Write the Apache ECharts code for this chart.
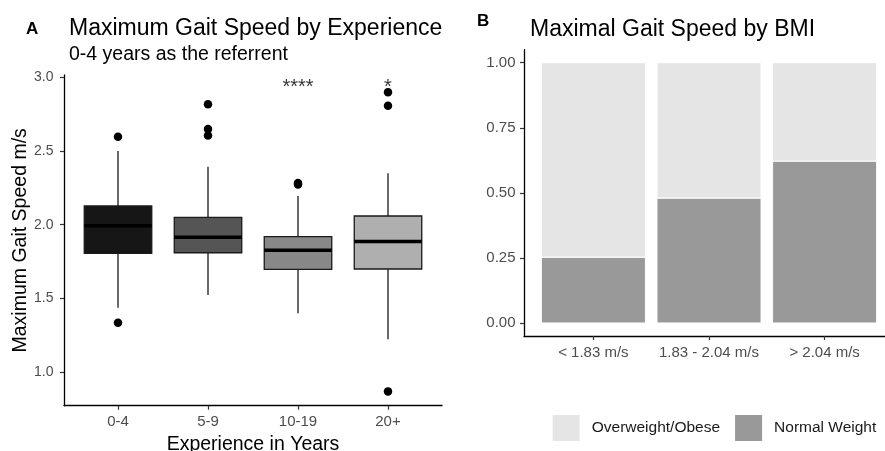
<!DOCTYPE html>
<html>
<head>
<meta charset="utf-8">
<script src="https://cdn.jsdelivr.net/npm/echarts@6/dist/echarts.min.js"></script>
<style>
html,body{margin:0;padding:0;background:#fff;}
#chart{width:885px;height:451px;}
</style>
</head>
<body>
<div id="chart"></div>
<script>
// ---- Panel A data: Maximum gait speed by experience (box plot) ----
const categories = ['0-4', '5-9', '10-19', '20+'];
const boxMin    = [1.438, 1.524, 1.400, 1.224];
const boxQ1     = [1.806, 1.810, 1.698, 1.700];
const boxMedian = [1.993, 1.915, 1.827, 1.887];
const boxQ3     = [2.127, 2.050, 1.919, 2.059];
const boxMax    = [2.500, 2.393, 2.194, 2.348];
const outlierCategory = ['0-4', '0-4', '5-9', '5-9', '5-9', '10-19', '10-19', '20+', '20+', '20+'];
const outlierValue    = [2.596, 1.336, 2.816, 2.648, 2.605, 2.272, 2.282, 2.898, 2.805, 0.871];
const sigCategory = ['10-19', '20+'];
const sigLabel    = ['****', '*'];
const sigValue    = [2.93, 2.93];
const yTicksA = [1.0, 1.5, 2.0, 2.5, 3.0];

// ---- Panel B data: Maximal gait speed by BMI (proportions) ----
const bmiCategories = ['< 1.83 m/s', '1.83 - 2.04 m/s', '> 2.04 m/s'];
const normalWeight = [0.253, 0.480, 0.622];
const overweightObese = [0.747, 0.520, 0.378];
const yTicksB = [0, 0.25, 0.5, 0.75, 1.0];

// ---- styles ----
const boxFills = ['#161616', '#555555', '#888888', '#afafaf'];
const FONT = '"Liberation Sans", Arial, sans-serif';
const tickGrey = '#4d4d4d';

const chart = echarts.init(document.getElementById('chart'), null, {renderer: 'canvas'});

const boxData = categories.map((c, i) => [i + 1, boxMin[i], boxQ1[i], boxMedian[i], boxQ3[i], boxMax[i]]);
const outlierData = outlierCategory.map((c, i) => [categories.indexOf(c) + 1, outlierValue[i]]);
const sigData = sigCategory.map((c, i) => ({value: [categories.indexOf(c) + 1, sigValue[i]], label: sigLabel[i]}));

// stacked segments: [x, bottom, top]
const normalSeg = normalWeight.map((v, i) => [i + 1, 0, v]);
const overSeg = overweightObese.map((v, i) => [i + 1, normalWeight[i], normalWeight[i] + v]);

function renderSegment(params, api) {
  const x = api.value(0);
  const pBot = api.coord([x, api.value(1)]);
  const pTop = api.coord([x, api.value(2)]);
  const w = api.size([0.9, 0])[0];
  return {
    type: 'rect',
    shape: {x: pBot[0] - w / 2, y: pTop[1], width: w, height: pBot[1] - pTop[1]},
    style: {fill: api.visual('color'), stroke: '#ffffff', lineWidth: 1}
  };
}

const option = {
  animation: false,
  backgroundColor: '#ffffff',
  textStyle: {fontFamily: FONT},
  title: [
    {text: 'A', left: 21, top: 15.5, textStyle: {fontFamily: FONT, fontSize: 17, fontWeight: 'bold', color: '#000'}},
    {text: 'Maximum Gait Speed by Experience', left: 64, top: 12.5, textStyle: {fontFamily: FONT, fontSize: 23, fontWeight: 'normal', color: '#000'}},
    {text: '0-4 years as the referrent', left: 64, top: 39.5, textStyle: {fontFamily: FONT, fontSize: 19.5, fontWeight: 'normal', color: '#000'}},
    {text: 'B', left: 472, top: 8, textStyle: {fontFamily: FONT, fontSize: 17, fontWeight: 'bold', color: '#000'}},
    {text: 'Maximal Gait Speed by BMI', left: 525, top: 13, textStyle: {fontFamily: FONT, fontSize: 23, fontWeight: 'normal', color: '#000'}}
  ],
  legend: {
    data: ['Overweight/Obese', 'Normal Weight'],
    left: 547.7, top: 410, width: 600,
    itemWidth: 27, itemHeight: 26, itemGap: 15,
    icon: 'rect',
    textStyle: {fontFamily: FONT, fontSize: 15.5, color: '#1a1a1a', padding: [0, 0, 0, 7]}
  },
  grid: [
    {left: 64, top: 75, width: 378, height: 330.7, containLabel: false, outerBoundsMode: 'none'},
    {left: 524, top: 49.7, width: 370, height: 286.3, containLabel: false, outerBoundsMode: 'none'}
  ],
  xAxis: [
    {
      type: 'value', gridIndex: 0, min: 0.4, max: 4.6,
      splitLine: {show: false},
      axisLine: {show: true, onZero: false, lineStyle: {color: '#000', width: 1.3}},
      axisTick: {show: true, length: 4, customValues: [1, 2, 3, 4], lineStyle: {color: '#333', width: 1.2}},
      axisLabel: {customValues: [1, 2, 3, 4], margin: 9, fontSize: 15, color: tickGrey, fontFamily: FONT,
        formatter: v => categories[Math.round(v) - 1]},
      name: 'Experience in Years', nameLocation: 'middle', nameGap: 29,
      nameTextStyle: {fontSize: 19.5, color: '#000', fontFamily: FONT}
    },
    {
      type: 'value', gridIndex: 1, min: 0.4, max: 3.6,
      splitLine: {show: false},
      axisLine: {show: true, onZero: false, lineStyle: {color: '#000', width: 1.3}},
      axisTick: {show: true, length: 4, customValues: [1, 2, 3], lineStyle: {color: '#333', width: 1.2}},
      axisLabel: {customValues: [1, 2, 3], margin: 9, fontSize: 15, color: tickGrey, fontFamily: FONT,
        formatter: v => bmiCategories[Math.round(v) - 1]}
    }
  ],
  yAxis: [
    {
      type: 'value', gridIndex: 0, min: 0.774, max: 3.014,
      splitLine: {show: false},
      axisLine: {show: true, onZero: false, lineStyle: {color: '#000', width: 1.3}},
      axisTick: {show: true, length: 4, customValues: yTicksA, lineStyle: {color: '#333', width: 1.2}},
      axisLabel: {customValues: yTicksA, margin: 10.5, fontSize: 14, color: tickGrey, fontFamily: FONT,
        formatter: v => v.toFixed(1)},
      name: 'Maximum Gait Speed m/s', nameLocation: 'middle', nameGap: 33, nameRotate: 90,
      nameTextStyle: {fontSize: 19.5, color: '#000', fontFamily: FONT}
    },
    {
      type: 'value', gridIndex: 1, min: -0.05, max: 1.05,
      splitLine: {show: false},
      axisLine: {show: true, onZero: false, lineStyle: {color: '#000', width: 1.3}},
      axisTick: {show: true, length: 4, customValues: yTicksB, lineStyle: {color: '#333', width: 1.2}},
      axisLabel: {customValues: yTicksB, margin: 8.5, fontSize: 15, color: tickGrey, fontFamily: FONT,
        formatter: v => v.toFixed(2)}
    }
  ],
  series: [
    {
      type: 'custom', name: 'box', xAxisIndex: 0, yAxisIndex: 0,
      data: boxData,
      encode: {x: 0, y: [1, 2, 3, 4, 5]},
      renderItem: function (params, api) {
        const x = api.value(0);
        const pLo = api.coord([x, api.value(1)]);
        const pQ1 = api.coord([x, api.value(2)]);
        const pMed = api.coord([x, api.value(3)]);
        const pQ3 = api.coord([x, api.value(4)]);
        const pHi = api.coord([x, api.value(5)]);
        const w = api.size([0.75, 0])[0];
        const stroke = '#1a1a1a';
        return {
          type: 'group',
          children: [
            {type: 'line', shape: {x1: pHi[0], y1: pHi[1], x2: pQ3[0], y2: pQ3[1]}, style: {stroke: stroke, lineWidth: 1.3}},
            {type: 'line', shape: {x1: pQ1[0], y1: pQ1[1], x2: pLo[0], y2: pLo[1]}, style: {stroke: stroke, lineWidth: 1.3}},
            {type: 'rect', shape: {x: pQ3[0] - w / 2, y: pQ3[1], width: w, height: pQ1[1] - pQ3[1]},
              style: {fill: boxFills[params.dataIndex], stroke: stroke, lineWidth: 1.3}},
            {type: 'line', shape: {x1: pMed[0] - w / 2, y1: pMed[1], x2: pMed[0] + w / 2, y2: pMed[1]},
              style: {stroke: '#000', lineWidth: 3.5}}
          ]
        };
      }
    },
    {
      type: 'scatter', name: 'outliers', xAxisIndex: 0, yAxisIndex: 0,
      data: outlierData, symbolSize: 8.5,
      itemStyle: {color: '#000', opacity: 1}
    },
    {
      type: 'scatter', name: 'significance', xAxisIndex: 0, yAxisIndex: 0,
      data: sigData, symbolSize: 0,
      label: {show: true, position: 'inside', formatter: p => p.data.label,
        fontSize: 20, color: '#000', fontFamily: FONT}
    },
    {
      type: 'custom', name: 'Normal Weight', xAxisIndex: 1, yAxisIndex: 1,
      data: normalSeg, encode: {x: 0, y: [1, 2]},
      itemStyle: {color: '#999999'},
      renderItem: renderSegment
    },
    {
      type: 'custom', name: 'Overweight/Obese', xAxisIndex: 1, yAxisIndex: 1,
      data: overSeg, encode: {x: 0, y: [1, 2]},
      itemStyle: {color: '#e5e5e5'},
      renderItem: renderSegment
    }
  ]
};
chart.setOption(option);
</script>
</body>
</html>
